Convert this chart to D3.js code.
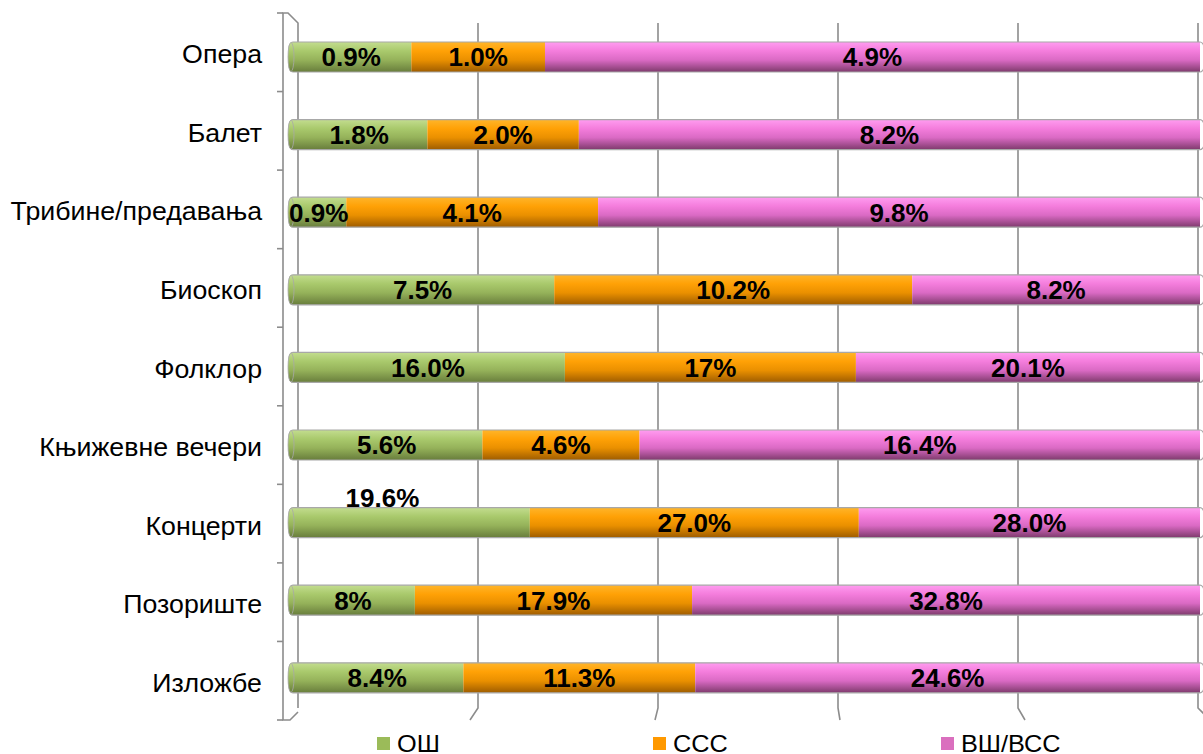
<!DOCTYPE html>
<html>
<head>
<meta charset="utf-8">
<script src="https://cdn.jsdelivr.net/npm/d3@7"></script>
<style>
  html, body { margin: 0; padding: 0; background: #fff; }
  svg { display: block; }
  text { font-family: Arial, "Liberation Sans", sans-serif; }
</style>
</head>
<body>
<svg id="chart" width="1203" height="754"></svg>
<script>
// ---- Data ----
const categories = ["Опера", "Балет", "Трибине/предавања", "Биоскоп", "Фолклор",
                    "Књижевне вечери", "Концерти", "Позориште", "Изложбе"];
const seriesNames = ["ОШ", "ССС", "ВШ/ВСС"];
const osValues   = [0.9, 1.8, 0.9, 7.5, 16.0, 5.6, 19.6, 8, 8.4];
const sssValues  = [1.0, 2.0, 4.1, 10.2, 17, 4.6, 27.0, 17.9, 11.3];
const vssValues  = [4.9, 8.2, 9.8, 8.2, 20.1, 16.4, 28.0, 32.8, 24.6];
const osLabels   = ["0.9%", "1.8%", "0.9%", "7.5%", "16.0%", "5.6%", "19.6%", "8%", "8.4%"];
const sssLabels  = ["1.0%", "2.0%", "4.1%", "10.2%", "17%", "4.6%", "27.0%", "17.9%", "11.3%"];
const vssLabels  = ["4.9%", "8.2%", "9.8%", "8.2%", "20.1%", "16.4%", "28.0%", "32.8%", "24.6%"];
const gridTicks  = [0, 0.2, 0.4, 0.6, 0.8, 1.0];

const seriesValues = [osValues, sssValues, vssValues];
const seriesLabels = [osLabels, sssLabels, vssLabels];
const colors = ["#9BBB59", "#FF9900", "#DA6FBE"];
const grad = [
  ["#c3dd8f", "#a9c96c", "#95b25a", "#687d3c"],
  ["#ffb52a", "#ffa106", "#ea9000", "#9e5c00"],
  ["#ff9cf0", "#f47ddc", "#da6ac4", "#7e3a6c"]
];

const svg = d3.select("#chart");
const defs = svg.append("defs");
grad.forEach((g, i) => {
  const lg = defs.append("linearGradient").attr("id", "g" + i)
    .attr("x1", 0).attr("y1", 0).attr("x2", 0).attr("y2", 1);
  lg.append("stop").attr("offset", "0%").attr("stop-color", g[0]);
  lg.append("stop").attr("offset", "30%").attr("stop-color", g[1]);
  lg.append("stop").attr("offset", "60%").attr("stop-color", g[2]);
  lg.append("stop").attr("offset", "100%").attr("stop-color", g[3]);
});

// ---- Scales ----
const x = d3.scaleLinear().domain([0, 1]).range([291, 1200]);
const xBack = d3.scaleLinear().domain([0, 1]).range([298, 1198]);
const xFront = d3.scaleLinear().domain([0, 1]).range([285, 1210]);
const yBar = d3.scaleBand().domain(categories).range([18.2, 716.6])
  .paddingInner(0.613).paddingOuter(0.3065);
const yAxis = d3.scaleBand().domain(categories).range([13, 720]);

// ---- Gridlines (3D back wall + floor slant) ----
const gridColor = "#8c8c8c";
svg.append("g").selectAll("path").data(gridTicks.slice(1)).join("path")
  .attr("d", t => `M${xBack(t)},23 L${xBack(t)},708 L${xFront(t)},720`)
  .attr("fill", "none").attr("stroke", gridColor).attr("stroke-width", 1.6);

// left wall / axis
svg.append("path")
  .attr("d", `M${xBack(0)},708 L${xBack(0)},23 L288,13 L283,13 L283,720 L290,720 L${xBack(0)},712`)
  .attr("fill", "none").attr("stroke", gridColor).attr("stroke-width", 1.6);
const boundaries = categories.map(c => yAxis(c)).concat([yAxis.range()[1]]);
svg.append("g").selectAll("line").data(boundaries).join("line")
  .attr("x1", 277).attr("x2", 283)
  .attr("y1", d => d).attr("y2", d => d)
  .attr("stroke", gridColor).attr("stroke-width", 1.6);

// ---- Stacked (100%) bars ----
const rows = categories.map((c, i) => {
  const vals = seriesValues.map(s => s[i]);
  const total = d3.sum(vals);
  let acc = 0;
  return vals.map((v, k) => {
    const seg = { cat: c, k, x0: acc / total, x1: (acc + v) / total, label: seriesLabels[k][i] };
    acc += v;
    return seg;
  });
});
const segs = rows.flat();
const bh = yBar.bandwidth();

const barG = svg.append("g");
barG.selectAll("rect.seg").data(segs).join("rect")
  .attr("class", "seg")
  .attr("x", d => x(d.x0))
  .attr("width", d => x(d.x1) - x(d.x0))
  .attr("y", d => yBar(d.cat))
  .attr("height", bh)
  .attr("fill", d => `url(#g${d.k})`);

// outline of each cylinder
barG.selectAll("rect.outline").data(categories).join("rect")
  .attr("class", "outline")
  .attr("x", x(0) - 2).attr("width", x(1) - x(0) + 6)
  .attr("y", d => yBar(d)).attr("height", bh)
  .attr("rx", 4).attr("ry", 6)
  .attr("fill", "none").attr("stroke", "#a8a8a8").attr("stroke-width", 1.2);
// left caps
barG.selectAll("ellipse").data(categories).join("ellipse")
  .attr("cx", x(0)).attr("cy", d => yBar(d) + bh / 2)
  .attr("rx", 3).attr("ry", bh / 2 - 0.5)
  .attr("fill", "url(#g0)").attr("stroke", "#a8a8a8").attr("stroke-width", 0.8);

// data labels
svg.append("g").selectAll("text").data(segs).join("text")
  .attr("x", d => (x(d.x0) + x(d.x1)) / 2 + (d.cat === "Концерти" && d.k === 0 ? -28 : 0))
  .attr("y", d => yBar(d.cat) + bh / 2 + (d.cat === "Концерти" && d.k === 0 ? -25 : 0))
  .attr("dy", "0.36em")
  .attr("text-anchor", "middle")
  .attr("font-size", 26).attr("font-weight", "bold").attr("fill", "#000")
  .text(d => d.label);

// category labels
svg.append("g").selectAll("text").data(categories).join("text")
  .attr("transform", d => `translate(262,${yAxis(d) + yAxis.bandwidth() / 2 + 2}) scale(1.07,1)`)
  .attr("dy", "0.36em")
  .attr("text-anchor", "end")
  .attr("font-size", 25).attr("fill", "#000")
  .text(d => d);

// legend
const legendX = [377, 653, 941];
const lg = svg.append("g").selectAll("g").data(seriesNames).join("g")
  .attr("transform", (d, i) => `translate(${legendX[i]},0)`);
lg.append("rect").attr("x", 0).attr("y", 737).attr("width", 13).attr("height", 13)
  .attr("fill", (d, i) => colors[i]);
lg.append("text").attr("transform", "translate(20,752) scale(1.1,1)")
  .attr("font-size", 23).attr("fill", "#000").text(d => d);
</script>
</body>
</html>
